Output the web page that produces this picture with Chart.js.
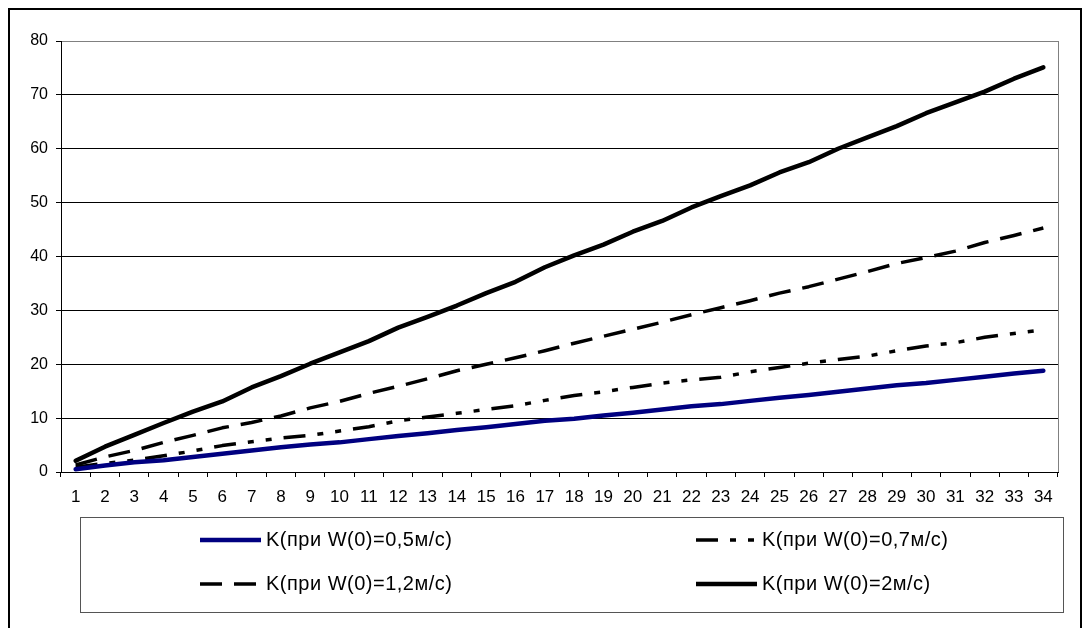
<!DOCTYPE html>
<html>
<head>
<meta charset="utf-8">
<script src="https://cdn.jsdelivr.net/npm/chart.js@4/dist/chart.umd.min.js"></script>
<style>
html, body { margin: 0; padding: 0; background: #fff; }
#wrap { width: 1088px; height: 628px; }
</style>
</head>
<body>
<div id="wrap"><canvas id="chart" width="1088" height="628"></canvas></div>
<script>
// categories on the x axis
const categories = ['1','2','3','4','5','6','7','8','9','10','11','12','13','14','15','16','17',
                    '18','19','20','21','22','23','24','25','26','27','28','29','30','31','32','33','34'];

const seriesNames = [
    'K(при W(0)=0,5м/с)',
    'K(при W(0)=0,7м/с)',
    'K(при W(0)=1,2м/с)',
    'K(при W(0)=2м/с)'
];

// values
const k05 = [0.5, 1.2, 1.8, 2.2, 2.8, 3.4, 4.0, 4.6, 5.1, 5.5, 6.1, 6.7, 7.2, 7.8, 8.3, 8.9, 9.5,
             9.9, 10.5, 11.0, 11.6, 12.2, 12.6, 13.2, 13.8, 14.3, 14.9, 15.5, 16.1, 16.5, 17.1, 17.7, 18.3, 18.8];
const k07 = [0.9, 1.6, 2.2, 3.0, 3.9, 4.9, 5.6, 6.3, 6.8, 7.6, 8.4, 9.5, 10.2, 10.9, 11.6, 12.3, 13.3,
             14.2, 14.9, 15.7, 16.5, 17.1, 17.6, 18.6, 19.4, 20.2, 20.9, 21.5, 22.5, 23.4, 24.0, 25.0, 25.7, 26.4];
const k12 = [1.3, 2.8, 4.0, 5.5, 6.8, 8.2, 9.2, 10.4, 11.9, 13.1, 14.6, 15.9, 17.3, 18.8, 20.0, 21.2, 22.5,
             23.9, 25.2, 26.5, 27.8, 29.2, 30.5, 31.8, 33.2, 34.4, 35.8, 37.2, 38.7, 39.8, 41.0, 42.6, 43.9, 45.3];
const k2  = [2.1, 4.7, 6.9, 9.1, 11.2, 13.1, 15.7, 17.8, 20.1, 22.2, 24.3, 26.8, 28.8, 30.9, 33.2, 35.3, 38.0,
             40.2, 42.2, 44.6, 46.6, 49.1, 51.2, 53.2, 55.6, 57.5, 60.0, 62.1, 64.2, 66.6, 68.6, 70.6, 73.0, 75.1];

const yMin = 0, yMax = 80, yStep = 10;
const FONT = '"Liberation Sans", Arial, sans-serif';

// white background + outer frame (bottom edge is cut off in the original)
const framePlugin = {
    id: 'frame',
    beforeDraw(chart) {
        const ctx = chart.ctx;
        ctx.save();
        ctx.fillStyle = '#fff';
        ctx.fillRect(0, 0, chart.width, chart.height);
        ctx.strokeStyle = '#000';
        ctx.lineWidth = 2;
        ctx.beginPath();
        ctx.moveTo(9, chart.height);
        ctx.lineTo(9, 9);
        ctx.lineTo(1081, 9);
        ctx.lineTo(1081, chart.height);
        ctx.stroke();
        ctx.restore();
    }
};

// grey plot border (right side) + boxed legend in two columns
const legendPlugin = {
    id: 'boxLegend',
    afterDraw(chart) {
        const ctx = chart.ctx;
        const a = chart.chartArea;
        ctx.save();
        ctx.strokeStyle = '#808080';
        ctx.lineWidth = 1;
        ctx.beginPath();
        ctx.moveTo(Math.round(a.right) + 0.5, a.top);
        ctx.lineTo(Math.round(a.right) + 0.5, a.bottom);
        ctx.stroke();

        ctx.strokeStyle = '#555';
        ctx.strokeRect(80.5, 517.5, 983, 95);

        const cols = [200, 696];
        const rows = [540, 584];
        chart.data.datasets.forEach((ds, i) => {
            const x = cols[i % 2];
            const y = rows[Math.floor(i / 2)];
            ctx.beginPath();
            ctx.setLineDash(ds.borderDash || []);
            ctx.lineWidth = ds.borderWidth;
            ctx.strokeStyle = ds.borderColor;
            ctx.lineCap = 'butt';
            ctx.moveTo(x, y);
            ctx.lineTo(x + 61, y);
            ctx.stroke();
            ctx.setLineDash([]);
            ctx.fillStyle = '#000';
            ctx.font = '20px ' + FONT;
            ctx.textBaseline = 'middle';
            ctx.letterSpacing = '0.5px';
            ctx.fillText(ds.label, x + 66, y);
        });
        ctx.restore();
    }
};

const ctx = document.getElementById('chart').getContext('2d');
const chart = new Chart(ctx, {
    type: 'line',
    data: {
        labels: categories,
        datasets: [
            { label: seriesNames[0], data: k05, borderColor: '#000080', borderWidth: 4.5, borderDash: [] },
            { label: seriesNames[1], data: k07, borderColor: '#000', borderWidth: 3.5, borderDash: [22, 12, 6, 12, 6, 12] },
            { label: seriesNames[2], data: k12, borderColor: '#000', borderWidth: 3.5, borderDash: [22, 12] },
            { label: seriesNames[3], data: k2,  borderColor: '#000', borderWidth: 4.5, borderDash: [] }
        ].map(d => Object.assign(d, {
            fill: false,
            tension: 0,
            pointRadius: 0,
            borderCapStyle: d.borderDash.length ? 'butt' : 'round',
            borderJoinStyle: 'round'
        }))
    },
    options: {
        responsive: false,
        animation: false,
        devicePixelRatio: 1,
        layout: { padding: { left: 10, top: 41, right: 30, bottom: 126 } },
        plugins: {
            legend: { display: false },
            tooltip: { enabled: false }
        },
        scales: {
            x: {
                offset: true,
                ticks: { color: '#000', font: { family: FONT, size: 17 }, padding: 10, maxRotation: 0, autoSkip: false },
                grid: { offset: true, drawOnChartArea: false, drawTicks: true, tickLength: 5, color: '#000' },
                border: { display: true, color: '#000', width: 1 },
                afterFit: s => { s.height = 30; }
            },
            y: {
                min: yMin,
                max: yMax,
                ticks: { stepSize: yStep, color: '#000', font: { family: FONT, size: 16 }, padding: 8 },
                grid: {
                    color: c => (c.tick && c.tick.value === yMax) ? '#808080' : '#000',
                    tickColor: '#000',
                    lineWidth: 1,
                    tickLength: 5
                },
                border: { display: true, color: '#000', width: 1 },
                afterFit: s => { s.width = 51; }
            }
        }
    },
    plugins: [framePlugin, legendPlugin]
});
</script>
</body>
</html>
